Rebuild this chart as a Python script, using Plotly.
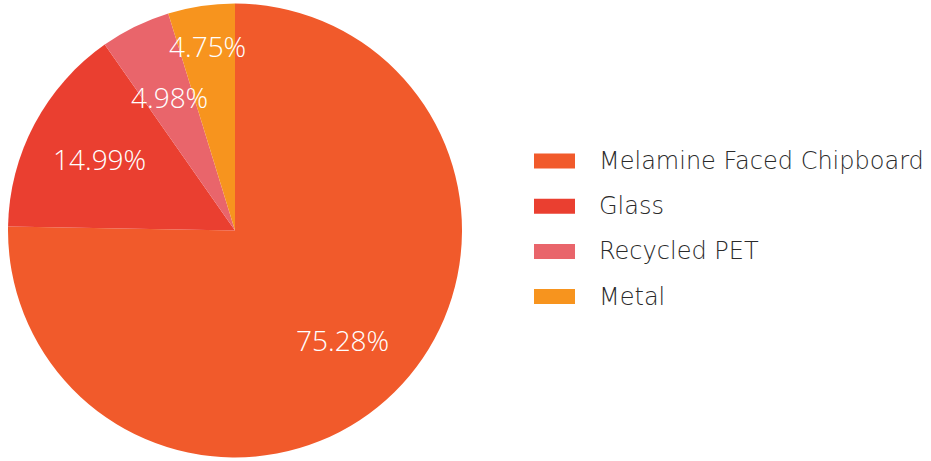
import math
import plotly.graph_objects as go

labels = ["Melamine Faced Chipboard", "Glass", "Recycled PET", "Metal"]
values = [75.28, 14.99, 4.98, 4.75]
colors = ["#F15A2B", "#EA3F30", "#E9656B", "#F7941E"]

W, H = 931, 461
PCT_FONT = "Open Sans"
LEG_FONT = "DejaVu Sans"

# pie geometry in pixels (domain)
px0, px1, py_top, py_bot = 8, 462, 2, 459
cx, cy = (px0 + px1) / 2, (py_top + py_bot) / 2
R = min(px1 - px0, py_bot - py_top) / 2
label_r = [0.675, 0.675, 0.655, 0.82]   # radial position of each % label (fraction of radius)

fig = go.Figure(go.Pie(
    labels=labels,
    values=values,
    sort=False,
    direction="clockwise",
    rotation=0,
    marker=dict(colors=colors, line=dict(width=0)),
    textinfo="none",
    showlegend=False,
    hoverinfo="label+value",
    domain=dict(x=[px0 / W, px1 / W], y=[1 - py_bot / H, 1 - py_top / H]),
))

shapes, annots = [], []

# percentage labels placed along each slice's mid angle
total = sum(values)
cum = 0.0
for v, f in zip(values, label_r):
    mid = (cum + v / 2) / total * 2 * math.pi
    cum += v
    x = cx + f * R * math.sin(mid)
    y = cy - f * R * math.cos(mid)
    annots.append(dict(xref="paper", yref="paper", x=x / W, y=1 - y / H,
                       xanchor="center", yanchor="middle", showarrow=False,
                       text=f"{v:.2f}%",
                       font=dict(family=PCT_FONT, size=28, color="white", weight=300)))

# custom legend (wide swatches) built from the data arrays
leg_x0, leg_x1, text_x = 534, 575, 597
leg_top, step, sw_h = 161, 45.2, 15
for i, (lab, col) in enumerate(zip(labels, colors)):
    yc = leg_top + i * step
    shapes.append(dict(type="rect", xref="paper", yref="paper",
                       x0=leg_x0 / W, x1=leg_x1 / W,
                       y0=1 - (yc + sw_h / 2) / H, y1=1 - (yc - sw_h / 2) / H,
                       fillcolor=col, line=dict(width=0)))
    annots.append(dict(xref="paper", yref="paper", x=text_x / W, y=1 - yc / H,
                       xanchor="left", yanchor="middle", showarrow=False,
                       text=lab, font=dict(family=LEG_FONT, size=24, color="#2a2a2a", weight=300)))

fig.update_layout(
    width=W, height=H,
    margin=dict(l=0, r=0, t=0, b=0),
    paper_bgcolor="white", plot_bgcolor="white",
    shapes=shapes, annotations=annots,
)

fig.write_html("out.html", config={"displayModeBar": False},
               post_script="document.body.style.margin='0px';")
